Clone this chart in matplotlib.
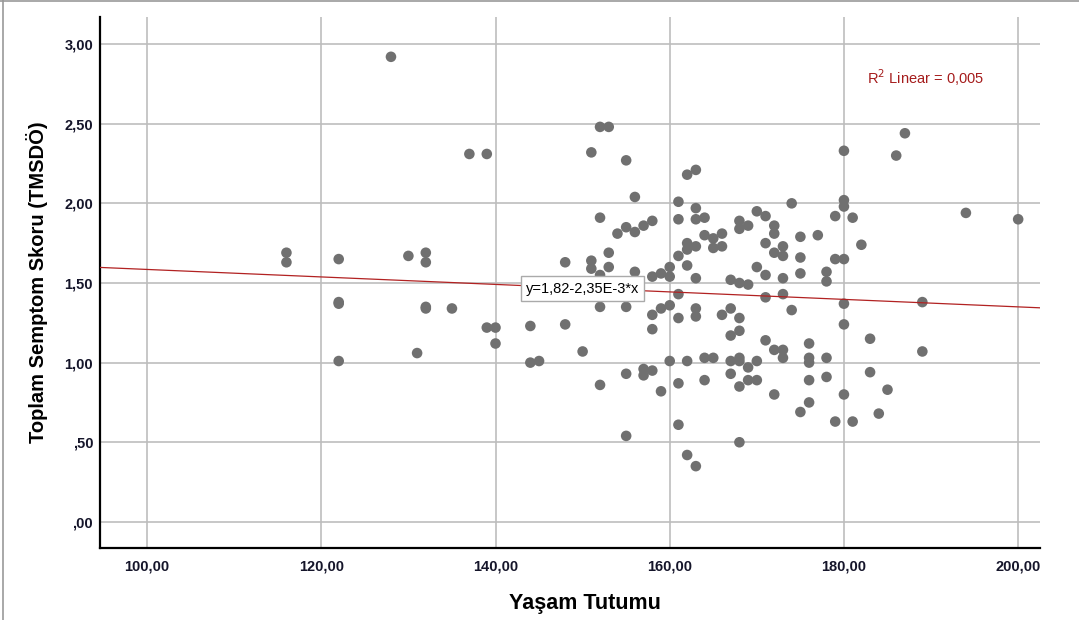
import matplotlib
matplotlib.use("Agg")
from matplotlib import pyplot as plt
from matplotlib.lines import Line2D
import numpy as np

plt.rcParams["font.family"] = ["Liberation Sans", "DejaVu Sans"]

# Yaşam Tutumu (x) / Toplam Semptom Skoru (y)
yasam = [116, 116, 122, 122, 122, 122, 128, 130, 131, 132, 132, 132, 132, 135,
         137, 139, 139, 140, 140, 144, 144, 145, 148, 148, 150,
         151, 151, 151, 152, 152, 152, 152, 152, 153, 153, 153, 154,
         155, 155, 155, 155, 155, 156, 156, 156, 157, 157, 157,
         158, 158, 158, 158, 158, 159, 159, 159, 160, 160, 160, 160,
         161, 161, 161, 161, 161, 161, 161, 162, 162, 162, 162, 162, 162,
         163, 163, 163, 163, 163, 163, 163, 163, 164, 164, 164, 164,
         165, 165, 165, 166, 166, 166, 167, 167, 167, 167, 167,
         168, 168, 168, 168, 168, 168, 168, 168, 168, 169, 169, 169, 169,
         170, 170, 170, 170, 171, 171, 171, 171, 171, 172, 172, 172, 172, 172,
         173, 173, 173, 173, 173, 173, 174, 174, 175, 175, 175, 175,
         176, 176, 176, 176, 176, 177, 178, 178, 178, 178, 179, 179, 179,
         180, 180, 180, 180, 180, 180, 180, 181, 181, 182, 183, 183, 184, 185,
         186, 187, 189, 189, 194, 200]
semptom = [1.69, 1.63, 1.65, 1.38, 1.37, 1.01, 2.92, 1.67, 1.06, 1.69, 1.63, 1.34, 1.35, 1.34,
           2.31, 2.31, 1.22, 1.22, 1.12, 1.23, 1.00, 1.01, 1.63, 1.24, 1.07,
           2.32, 1.64, 1.59, 2.48, 1.91, 1.55, 1.35, 0.86, 2.48, 1.69, 1.60, 1.81,
           2.27, 1.85, 1.35, 0.93, 0.54, 2.04, 1.82, 1.57, 1.86, 0.96, 0.92,
           1.89, 1.54, 1.30, 1.21, 0.95, 1.56, 1.34, 0.82, 1.60, 1.54, 1.36, 1.01,
           2.01, 1.90, 1.67, 1.43, 1.28, 0.87, 0.61, 2.18, 1.75, 1.71, 1.61, 1.01, 0.42,
           2.21, 1.97, 1.90, 1.73, 1.53, 1.34, 1.29, 0.35, 1.91, 1.80, 1.03, 0.89,
           1.78, 1.72, 1.03, 1.81, 1.73, 1.30, 1.52, 1.34, 1.17, 1.01, 0.93,
           1.89, 1.84, 1.50, 1.28, 1.20, 1.03, 1.01, 0.85, 0.50, 1.86, 1.49, 0.97, 0.89,
           1.95, 1.60, 1.01, 0.89, 1.92, 1.75, 1.55, 1.41, 1.14, 1.86, 1.81, 1.69, 1.08, 0.80,
           1.73, 1.67, 1.53, 1.43, 1.08, 1.03, 2.00, 1.33, 1.79, 1.66, 1.56, 0.69,
           1.12, 1.03, 1.00, 0.89, 0.75, 1.80, 1.57, 1.51, 1.03, 0.91, 1.92, 1.65, 0.63,
           2.33, 2.02, 1.98, 1.65, 1.37, 1.24, 0.80, 1.91, 0.63, 1.74, 1.15, 0.94, 0.68, 0.83,
           2.30, 2.44, 1.38, 1.07, 1.94, 1.90]

# fit line shown in the chart
kesisim = 1.82
egim = -2.35e-3
r2_text = "R$^2$ Linear = 0,005"
fit_text = "y=1,82-2,35E-3*x"

x_ticks = [100, 120, 140, 160, 180, 200]
y_ticks = [0.0, 0.5, 1.0, 1.5, 2.0, 2.5, 3.0]


def virgul(v):
    s = "%.2f" % v
    if s.startswith("0."):
        s = s[1:]
    return s.replace(".", ",")


fig = plt.figure(figsize=(10.79, 6.20), dpi=100)
ax = fig.add_axes([0.0927, 0.1161, 0.8711, 0.8565])

ax.set_xlim(94.6, 202.5)
ax.set_ylim(-0.164, 3.17)

ax.set_xticks(x_ticks)
ax.set_xticklabels([virgul(v) for v in x_ticks])
ax.set_yticks(y_ticks)
ax.set_yticklabels([virgul(v) for v in y_ticks])
ax.tick_params(length=0, labelsize=10.5, colors="#15152a")
ax.tick_params(axis="x", pad=8)
ax.tick_params(axis="y", pad=5)
for lab in ax.get_xticklabels() + ax.get_yticklabels():
    lab.set_fontweight("bold")

ax.grid(True, color="#bdbdbd", linewidth=1.2, zorder=0)
ax.set_axisbelow(True)
for side in ["top", "right"]:
    ax.spines[side].set_visible(False)
for side in ["left", "bottom"]:
    ax.spines[side].set_linewidth(1.6)
    ax.spines[side].set_color("black")

ax.scatter(yasam, semptom, s=58, color="#707070", edgecolors="none", zorder=3)

xl = np.array(ax.get_xlim())
ax.plot(xl, kesisim + egim * xl, color="#b22222", linewidth=0.9, zorder=4)

ax.text(150.0, 1.465, fit_text, fontsize=10.5, color="black", ha="center", va="center",
        zorder=6, bbox=dict(boxstyle="square,pad=0.35", facecolor="white", edgecolor="#aaaaaa", linewidth=1))
ax.text(182.7, 2.79, r2_text, fontsize=10.5, color="#a51c1c", ha="left", va="center")

ax.set_xlabel("Yaşam Tutumu", fontsize=15.5, fontweight="bold", labelpad=13)
ax.xaxis.set_label_coords(0.516, -0.085)
ax.set_ylabel("Toplam Semptom Skoru (TMSDÖ)", fontsize=14.5, fontweight="bold", labelpad=12)

# thin frame of the screenshot
fig.add_artist(Line2D([0.003, 0.003], [0, 1], color="#999999", linewidth=1.2))
fig.add_artist(Line2D([0, 1], [0.998, 0.998], color="#999999", linewidth=1.2))

fig.savefig("out.png", dpi=100)
